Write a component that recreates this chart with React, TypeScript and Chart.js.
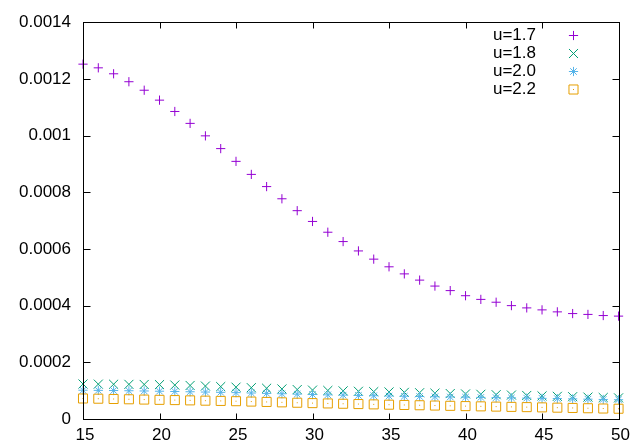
import React, { useEffect, useRef } from "react";
import { Chart, registerables } from "chart.js";

Chart.register(...registerables);

const X_VALUES = [15, 16, 17, 18, 19, 20, 21, 22, 23, 24, 25, 26, 27, 28, 29, 30, 31, 32, 33, 34, 35, 36, 37, 38, 39, 40, 41, 42, 43, 44, 45, 46, 47, 48, 49, 50];

const U17 = [0.001252, 0.001239, 0.001218, 0.00119, 0.00116, 0.001125, 0.001085, 0.001043, 0.000999, 0.000954, 0.000909, 0.000863, 0.00082, 0.000777, 0.000735, 0.000697, 0.000659, 0.000626, 0.000593, 0.000564, 0.000537, 0.000512, 0.00049, 0.000469, 0.000453, 0.000435, 0.000422, 0.000412, 0.0004, 0.000392, 0.000385, 0.000378, 0.000372, 0.000369, 0.000365, 0.000363];

const U18 = [0.0001235, 0.000123, 0.0001226, 0.0001222, 0.0001218, 0.0001213, 0.0001198, 0.0001183, 0.0001163, 0.0001143, 0.0001123, 0.0001105, 0.0001085, 0.000106, 0.0001038, 0.000102, 0.0001006, 0.0000992, 0.0000978, 0.0000964, 0.0000955, 0.000094, 0.0000927, 0.0000912, 0.0000898, 0.0000885, 0.0000872, 0.0000858, 0.0000845, 0.000083, 0.0000815, 0.00008, 0.0000787, 0.0000773, 0.0000758, 0.0000745];

const U20 = [0.0001015, 0.000101, 0.0001004, 0.0000997, 0.0000989, 0.000098, 0.0000971, 0.0000961, 0.0000951, 0.0000941, 0.000093, 0.0000917, 0.0000904, 0.0000891, 0.0000877, 0.0000863, 0.0000852, 0.0000842, 0.0000831, 0.0000821, 0.0000811, 0.0000803, 0.0000795, 0.0000787, 0.0000778, 0.000077, 0.0000762, 0.0000753, 0.0000745, 0.0000737, 0.0000729, 0.000072, 0.000071, 0.00007, 0.000069, 0.000068];

const U22 = [0.0000724, 0.0000716, 0.0000706, 0.0000696, 0.0000686, 0.0000676, 0.0000667, 0.0000657, 0.0000647, 0.0000638, 0.0000628, 0.0000615, 0.0000602, 0.0000588, 0.0000574, 0.000056, 0.0000549, 0.0000538, 0.0000527, 0.0000516, 0.0000505, 0.0000495, 0.0000485, 0.0000475, 0.0000465, 0.0000455, 0.0000446, 0.0000437, 0.0000428, 0.0000419, 0.000041, 0.00004, 0.000039, 0.000038, 0.000037, 0.0000362];

const SERIES_LABELS = ["u=1.7", "u=1.8", "u=2.0", "u=2.2"];
const SERIES_COLORS = ["#9400d3", "#009e73", "#56b4e9", "#e69f00"];
const SERIES_STYLES = ["cross", "crossRot", "star", "rect"];
const SERIES_RADII = [4.6, 6.4, 4.6, 6.4];
const SERIES_VALUES = [U17, U18, U20, U22];

const FONT = '"Liberation Sans", Arial, Helvetica, sans-serif';
const FONT_SIZE = 17;

function drawMarker(ctx: CanvasRenderingContext2D, style: string, x: number, y: number, r: number, color: string) {
  ctx.save();
  ctx.strokeStyle = color;
  ctx.lineWidth = 1;
  ctx.beginPath();
  const d = Math.SQRT1_2 * r;
  if (style === "cross" || style === "star") {
    ctx.moveTo(x - r, y);
    ctx.lineTo(x + r, y);
    ctx.moveTo(x, y - r);
    ctx.lineTo(x, y + r);
  }
  if (style === "crossRot" || style === "star") {
    ctx.moveTo(x - d, y - d);
    ctx.lineTo(x + d, y + d);
    ctx.moveTo(x - d, y + d);
    ctx.lineTo(x + d, y - d);
  }
  if (style === "rect") {
    ctx.rect(x - d, y - d, 2 * d, 2 * d);
  }
  ctx.stroke();
  if (style === "rect") {
    ctx.fillStyle = color;
    ctx.fillRect(x - 0.5, y - 0.5, 1, 1);
  }
  ctx.restore();
}

const framePlugin = {
  id: "gpFrame",
  afterDraw(chart: any) {
    const { ctx, chartArea } = chart;
    const xs = chart.scales.x;
    const ys = chart.scales.y;
    const L = Math.round(chartArea.left) + 0.5;
    const R = Math.round(chartArea.right) + 0.5;
    const T = Math.round(chartArea.top) + 0.5;
    const B = Math.round(chartArea.bottom) + 0.5;
    ctx.save();
    ctx.strokeStyle = "#000";
    ctx.lineWidth = 1;
    ctx.beginPath();
    xs.ticks.forEach((t: any) => {
      const px = Math.round(xs.getPixelForValue(t.value)) + 0.5;
      ctx.moveTo(px, B);
      ctx.lineTo(px, B - 6);
      ctx.moveTo(px, T);
      ctx.lineTo(px, T + 6);
    });
    ys.ticks.forEach((t: any) => {
      const py = Math.round(ys.getPixelForValue(t.value)) + 0.5;
      ctx.moveTo(L, py);
      ctx.lineTo(L + 7, py);
      ctx.moveTo(R, py);
      ctx.lineTo(R - 7, py);
    });
    ctx.stroke();
    ctx.strokeRect(L, T, R - L, B - T);
    ctx.restore();
  },
};

const legendPlugin = {
  id: "gpLegend",
  afterDraw(chart: any) {
    const ctx = chart.ctx;
    ctx.save();
    ctx.font = `${FONT_SIZE}px ${FONT}`;
    ctx.fillStyle = "#000";
    ctx.textAlign = "right";
    ctx.textBaseline = "middle";
    chart.data.datasets.forEach((ds: any, i: number) => {
      const y = 34.5 + i * 18.1;
      ctx.fillText(ds.label, 536, y + 1);
      drawMarker(ctx, ds.pointStyle, 573.5, Math.round(y) + 0.5, ds.pointRadius, ds.borderColor);
    });
    ctx.restore();
  },
};

const centerDotPlugin = {
  id: "gpCenterDot",
  afterDatasetsDraw(chart: any) {
    const ctx = chart.ctx;
    chart.data.datasets.forEach((ds: any, i: number) => {
      if (ds.pointStyle !== "rect") return;
      const meta = chart.getDatasetMeta(i);
      ctx.save();
      ctx.fillStyle = ds.borderColor;
      meta.data.forEach((pt: any) => {
        ctx.fillRect(pt.x - 0.5, pt.y - 0.5, 1, 1);
      });
      ctx.restore();
    });
  },
};

export default function App() {
  const canvasRef = useRef<HTMLCanvasElement | null>(null);

  useEffect(() => {
    document.body.style.margin = "0";
    const canvas = canvasRef.current;
    if (!canvas) return;
    Chart.defaults.font.family = FONT;
    Chart.defaults.color = "#000";

    const datasets = SERIES_VALUES.map((vals, i) => ({
      label: SERIES_LABELS[i],
      data: X_VALUES.map((x, j) => ({ x, y: vals[j] })),
      pointStyle: SERIES_STYLES[i],
      pointRadius: SERIES_RADII[i],
      pointHoverRadius: SERIES_RADII[i],
      pointBorderWidth: 1,
      borderColor: SERIES_COLORS[i],
      pointBorderColor: SERIES_COLORS[i],
      backgroundColor: "rgba(0,0,0,0)",
      pointBackgroundColor: "rgba(0,0,0,0)",
      showLine: false,
      clip: false as any,
      order: SERIES_VALUES.length - 1 - i,
    }));

    const chart = new Chart(canvas, {
      type: "scatter",
      data: { datasets },
      options: {
        animation: false,
        responsive: true,
        maintainAspectRatio: false,
        layout: { padding: { left: 0, top: 19, right: 12, bottom: 0 } },
        plugins: { legend: { display: false }, tooltip: { enabled: false } },
        scales: {
          x: {
            type: "linear",
            min: 15,
            max: 50,
            grid: { display: false, drawTicks: false },
            border: { display: false },
            ticks: {
              stepSize: 5,
              padding: 6,
              labelOffset: 2,
              font: { size: FONT_SIZE, family: FONT },
              color: "#000",
              maxRotation: 0,
              autoSkip: false,
            },
            afterFit: (scale: any) => {
              scale.height = 26;
            },
          },
          y: {
            type: "linear",
            min: 0,
            max: 0.0014,
            grid: { display: false, drawTicks: false },
            border: { display: false },
            ticks: {
              stepSize: 0.0002,
              padding: 12,
              font: { size: FONT_SIZE, family: FONT },
              color: "#000",
              autoSkip: false,
              callback: (v: any) => Number(v).toFixed(4).replace(/0+$/, "").replace(/\.$/, ""),
            },
            afterFit: (scale: any) => {
              scale.width = 83;
            },
          },
        },
      },
      plugins: [centerDotPlugin, framePlugin, legendPlugin],
    });

    return () => {
      chart.destroy();
    };
  }, []);

  return (
    <div style={{ position: "absolute", left: 0, top: 0, width: 634, height: 445 }}>
      <canvas ref={canvasRef} />
    </div>
  );
}
